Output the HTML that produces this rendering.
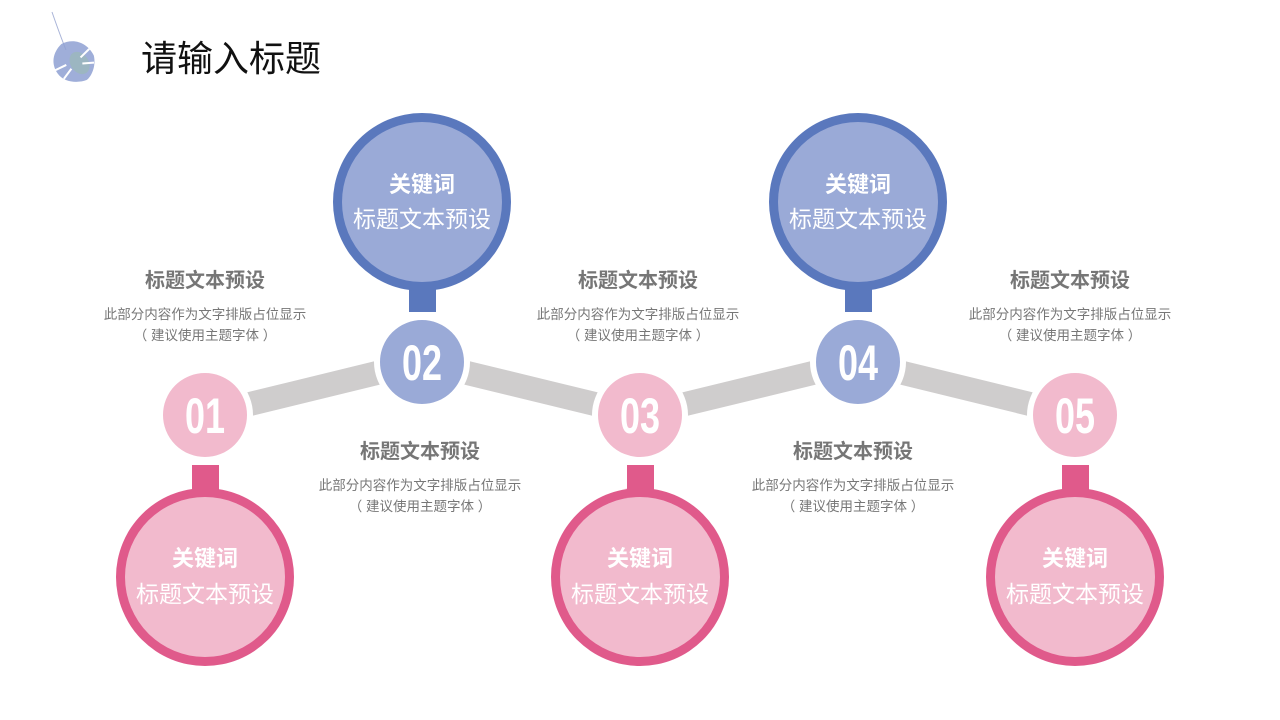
<!DOCTYPE html>
<html><head><meta charset="utf-8"><style>
body{margin:0;width:1280px;height:720px;background:#fff;overflow:hidden;position:relative;font-family:"Liberation Sans","Noto Sans CJK SC",sans-serif}
.t{position:absolute;text-align:center;color:#6f6f6f;width:260px}
.t b{display:block;font-size:20px;line-height:28px;color:#767676}
.t p{margin:9px 0 0;font-size:13.5px;line-height:21px;color:#777}
</style></head><body>
<svg width="1280" height="720" style="position:absolute;left:0;top:0">
<path d="M52,12 Q60,35 66,50" stroke="#a9b4d8" stroke-width="1" fill="none"/>
<g transform="translate(74,62) rotate(-35)">
<path d="M0,-22 C14,-20 22,-8 20,6 C16,16 6,22 0,22 C-8,20 -20,12 -20,0 C-20,-12 -12,-20 0,-22 Z" fill="#8ea0d2" opacity="0.85"/>
<ellipse cx="4" cy="4" rx="9" ry="12" fill="#9bbbb0" opacity="0.6"/>
<path d="M-20,-4 L-8,-2 M-18,8 L-6,4 M20,-2 L8,0 M16,12 L6,6" stroke="#fff" stroke-width="2"/>
</g>
<g stroke="#cfcdcd" stroke-width="24" fill="none">
<line x1="205" y1="415" x2="422" y2="362"/><line x1="422" y1="362" x2="640" y2="415"/>
<line x1="640" y1="415" x2="858" y2="362"/><line x1="858" y1="362" x2="1075" y2="415"/>
</g>
<g fill="#5a78bd">
<rect x="409" y="280" width="27" height="32"/><rect x="845" y="280" width="27" height="32"/>
<circle cx="422" cy="202" r="89"/><circle cx="858" cy="202" r="89"/>
</g>
<g fill="#9aaad7"><circle cx="422" cy="202" r="80"/><circle cx="858" cy="202" r="80"/></g>
<g fill="#e05a8b">
<rect x="192" y="465" width="27" height="30"/><rect x="627" y="465" width="27" height="30"/><rect x="1062" y="465" width="27" height="30"/>
<circle cx="205" cy="577" r="89"/><circle cx="640" cy="577" r="89"/><circle cx="1075" cy="577" r="89"/>
</g>
<g fill="#f2bacd"><circle cx="205" cy="577" r="80"/><circle cx="640" cy="577" r="80"/><circle cx="1075" cy="577" r="80"/></g>
<g stroke="#fff" stroke-width="6">
<circle cx="205" cy="415" r="45" fill="#f2bacd"/><circle cx="422" cy="362" r="45" fill="#9aaad7"/>
<circle cx="640" cy="415" r="45" fill="#f2bacd"/><circle cx="858" cy="362" r="45" fill="#9aaad7"/>
<circle cx="1075" cy="415" r="45" fill="#f2bacd"/>
</g>
<g fill="#fff" font-family="Liberation Sans,sans-serif" font-weight="bold" font-size="50" text-anchor="middle">
<text transform="translate(205,433) scale(0.72,1)">01</text><text transform="translate(422,380) scale(0.72,1)">02</text><text transform="translate(640,433) scale(0.72,1)">03</text><text transform="translate(858,380) scale(0.72,1)">04</text><text transform="translate(1075,433) scale(0.72,1)">05</text>
</g>
<g fill="#fff" text-anchor="middle" font-family="Liberation Sans,Noto Sans CJK SC,sans-serif">
<g font-size="22" font-weight="bold"><text x="422" y="192">关键词</text><text x="858" y="192">关键词</text><text x="205" y="566">关键词</text><text x="640" y="566">关键词</text><text x="1075" y="566">关键词</text></g>
<g font-size="23"><text x="422" y="227">标题文本预设</text><text x="858" y="227">标题文本预设</text><text x="205" y="602">标题文本预设</text><text x="640" y="602">标题文本预设</text><text x="1075" y="602">标题文本预设</text></g>
</g>
<text x="141" y="71" font-size="36" fill="#111" font-family="Liberation Sans,Noto Sans CJK SC,sans-serif">请输入标题</text>
</svg>
<div class="t" style="left:75px;top:267px"><b>标题文本预设</b><p>此部分内容作为文字排版占位显示<br>（ 建议使用主题字体 ）</p></div>
<div class="t" style="left:508px;top:267px"><b>标题文本预设</b><p>此部分内容作为文字排版占位显示<br>（ 建议使用主题字体 ）</p></div>
<div class="t" style="left:940px;top:267px"><b>标题文本预设</b><p>此部分内容作为文字排版占位显示<br>（ 建议使用主题字体 ）</p></div>
<div class="t" style="left:290px;top:438px"><b>标题文本预设</b><p>此部分内容作为文字排版占位显示<br>（ 建议使用主题字体 ）</p></div>
<div class="t" style="left:723px;top:438px"><b>标题文本预设</b><p>此部分内容作为文字排版占位显示<br>（ 建议使用主题字体 ）</p></div>
</body></html>
